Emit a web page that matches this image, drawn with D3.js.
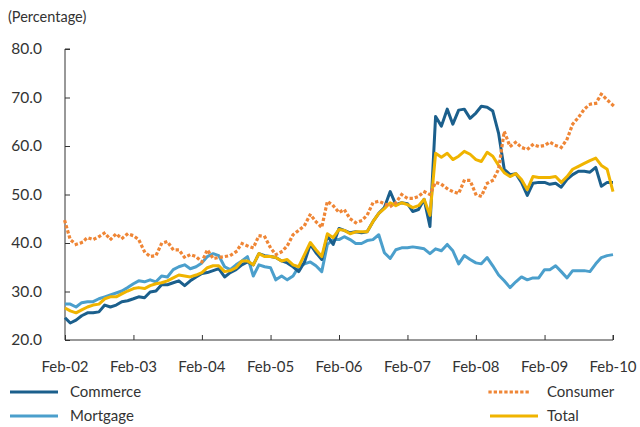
<!DOCTYPE html>
<html>
<head>
<meta charset="utf-8">
<script src="https://cdn.jsdelivr.net/npm/d3@7"></script>
<style>
  html, body { margin: 0; padding: 0; background: #fff; }
  svg { display: block; font-family: Lato, "Open Sans", sans-serif; }
</style>
</head>
<body>
<svg id="chart" width="640" height="427"></svg>
<script>
// Monthly shares (%), February 2002 through February 2010
const startMonth = new Date(2002, 1, 1);

const commerce = [
  24.6, 23.5, 24.1, 25.0, 25.6, 25.6, 25.8, 27.2, 26.8, 27.2, 27.9, 28.1,
  28.5, 28.9, 28.7, 29.9, 30.1, 31.4, 31.4, 31.8, 32.2, 31.2, 32.2, 33.0,
  33.7, 33.9, 34.3, 34.7, 33.0, 33.9, 34.5, 35.5, 36.1, 35.5, 37.8, 37.4,
  37.2, 37.0, 36.3, 35.9, 35.1, 34.1, 36.1, 39.7, 38.0, 36.6, 41.5, 39.7,
  43.0, 42.6, 42.1, 42.3, 42.1, 42.3, 44.4, 46.1, 47.3, 50.6, 47.9, 48.3,
  48.1, 46.5, 46.9, 49.0, 43.4, 66.1, 64.1, 67.6, 64.5, 67.4, 67.6, 65.7,
  66.8, 68.2, 68.0, 67.2, 62.6, 55.2, 54.1, 54.3, 52.5, 49.8, 52.3, 52.5,
  52.5, 52.1, 52.3, 51.5, 53.1, 54.1, 54.8, 54.8, 54.6, 55.6, 51.7, 52.5,
  52.5
];

const consumer = [
  44.4, 40.7, 39.7, 40.1, 41.1, 40.7, 41.3, 42.1, 40.7, 41.9, 40.9, 41.9,
  41.5, 40.7, 38.2, 37.2, 37.4, 39.9, 40.3, 38.6, 38.6, 37.0, 37.6, 37.2,
  36.1, 38.6, 36.8, 37.0, 37.2, 37.4, 38.2, 39.9, 39.4, 39.0, 41.5, 41.3,
  39.0, 37.6, 38.2, 39.4, 41.7, 42.6, 43.6, 45.9, 44.4, 43.2, 48.6, 47.7,
  46.3, 46.9, 45.0, 44.2, 44.6, 45.7, 48.3, 48.6, 48.1, 47.5, 48.3, 50.0,
  49.2, 49.2, 49.6, 50.6, 50.0, 52.5, 52.1, 51.2, 50.6, 50.2, 52.9, 52.9,
  50.0, 49.6, 52.3, 52.9, 55.2, 63.0, 59.9, 60.8, 59.7, 59.3, 60.3, 59.9,
  60.1, 60.8, 60.1, 59.7, 61.4, 64.5, 65.9, 67.6, 68.6, 68.8, 70.7, 69.5,
  68.4
];

const mortgage = [
  27.4, 27.4, 26.8, 27.7, 27.9, 27.9, 28.5, 28.9, 29.3, 29.7, 30.1, 30.8,
  31.6, 32.2, 32.0, 32.4, 32.0, 33.2, 33.0, 34.5, 35.1, 35.5, 34.7, 35.1,
  35.9, 37.2, 37.8, 37.4, 35.1, 34.5, 35.5, 36.3, 37.2, 33.2, 35.5, 35.1,
  34.9, 32.4, 33.2, 32.4, 33.2, 35.1, 35.7, 36.1, 35.3, 34.1, 39.7, 40.7,
  40.7, 41.3, 40.7, 39.9, 39.9, 40.5, 40.7, 41.7, 38.0, 36.8, 38.6, 39.0,
  39.0, 39.2, 39.0, 38.8, 37.8, 38.8, 38.4, 39.7, 38.4, 35.7, 37.4, 36.6,
  35.9, 35.7, 37.0, 35.3, 33.4, 32.2, 30.8, 32.0, 33.0, 32.4, 32.8, 32.8,
  34.5, 34.5, 35.3, 34.1, 32.8, 34.3, 34.3, 34.3, 34.1, 35.7, 37.0, 37.4,
  37.6
];

const total = [
  26.6, 26.0, 25.6, 26.2, 26.8, 27.2, 27.4, 28.5, 28.9, 28.9, 29.5, 30.1,
  30.6, 30.8, 30.6, 31.2, 31.6, 31.8, 32.2, 32.8, 33.4, 33.2, 33.0, 33.4,
  33.9, 34.9, 35.3, 35.3, 34.1, 34.3, 34.9, 36.3, 36.3, 35.5, 37.8, 37.2,
  37.2, 37.0, 36.3, 36.6, 35.5, 35.1, 37.6, 40.1, 38.6, 37.2, 41.9, 41.1,
  42.8, 42.6, 41.9, 42.3, 42.3, 42.3, 44.4, 46.1, 47.1, 48.3, 47.7, 48.3,
  47.9, 47.3, 47.7, 49.0, 45.7, 58.5, 57.7, 58.5, 57.2, 57.9, 58.9, 58.3,
  57.2, 56.8, 58.7, 57.9, 56.0, 54.5, 53.7, 54.3, 53.1, 51.0, 53.7, 53.5,
  53.5, 53.5, 53.7, 52.5, 53.7, 55.2, 55.8, 56.4, 57.0, 57.5, 56.0, 55.2,
  50.6
];

const yTicks = [20, 30, 40, 50, 60, 70, 80];
const xTickLabels = ["Feb-02", "Feb-03", "Feb-04", "Feb-05", "Feb-06", "Feb-07", "Feb-08", "Feb-09", "Feb-10"];
const unitLabel = "(Percentage)";

const seriesDefs = [
  { name: "Mortgage", values: mortgage, color: "#4b9fcc", dash: null },
  { name: "Commerce", values: commerce, color: "#1b5f8c", dash: null },
  { name: "Total",    values: total,    color: "#f0b400", dash: null },
  { name: "Consumer", values: consumer, color: "#ef8636", dash: "0.1,5.2" }
];

const svg = d3.select("#chart");
const axisColor = "#333";
const textColor = "#333";

const x = d3.scaleTime()
  .domain([startMonth, d3.timeMonth.offset(startMonth, 96)])
  .range([65, 613]);
const y = d3.scaleLinear().domain([20, 80]).range([340, 49]);

const monthAt = i => d3.timeMonth.offset(startMonth, i);

// Unit label
svg.append("text")
  .attr("x", 8).attr("y", 22)
  .attr("font-size", 14.5)
  .attr("fill", textColor)
  .text(unitLabel);

// Y axis with inward ticks
const yAxis = svg.append("g").attr("transform", "translate(65,0)")
  .call(d3.axisRight(y).tickValues(yTicks).tickSize(5).tickFormat(""));
yAxis.select(".domain").attr("stroke", axisColor).attr("d", `M5,${y(80)}H0V${y(20)}`);
yAxis.selectAll(".tick line").attr("stroke", axisColor);

svg.append("g").selectAll("text")
  .data(yTicks)
  .join("text")
  .attr("x", 42)
  .attr("y", d => y(d))
  .attr("dy", "0.35em")
  .attr("text-anchor", "end")
  .attr("font-size", 15.5)
  .attr("fill", textColor)
  .text(d => d3.format(".1f")(d));

// X axis with inward ticks at each February
const xTickDates = xTickLabels.map((_, i) => monthAt(i * 12));
const xAxis = svg.append("g").attr("transform", "translate(0,340)")
  .call(d3.axisTop(x).tickValues(xTickDates).tickSize(5).tickFormat(""));
xAxis.select(".domain").attr("stroke", axisColor).attr("d", `M${x.range()[0]},0H${x.range()[1]}V-5`);
xAxis.selectAll(".tick line").attr("stroke", axisColor);

svg.append("g").selectAll("text")
  .data(xTickLabels)
  .join("text")
  .attr("x", (d, i) => x(xTickDates[i]))
  .attr("y", 367)
  .attr("dy", "0.35em")
  .attr("text-anchor", "middle")
  .attr("font-size", 15)
  .attr("fill", textColor)
  .text(d => d);

// Series lines
const line = d3.line()
  .x((d, i) => x(monthAt(i)))
  .y(d => y(d));

svg.append("g").selectAll("path")
  .data(seriesDefs)
  .join("path")
  .attr("d", d => line(d.values))
  .attr("fill", "none")
  .attr("stroke", d => d.color)
  .attr("stroke-width", d => d.dash ? 3.2 : 3)
  .attr("stroke-linejoin", "round")
  .attr("stroke-linecap", d => d.dash ? "square" : "butt")
  .attr("stroke-dasharray", d => d.dash);

// Legend
const legendItems = [
  { s: seriesDefs[1], lx: 10, tx: 70, y: 392 },
  { s: seriesDefs[0], lx: 10, tx: 70, y: 416 },
  { s: seriesDefs[3], lx: 490, tx: 547, y: 392 },
  { s: seriesDefs[2], lx: 490, tx: 547, y: 416 }
];
const legend = svg.append("g").selectAll("g")
  .data(legendItems)
  .join("g");
legend.append("line")
  .attr("x1", d => d.lx).attr("x2", d => d.lx + (d.s.dash ? 42 : 48))
  .attr("y1", d => d.y).attr("y2", d => d.y)
  .attr("stroke", d => d.s.color)
  .attr("stroke-width", d => d.s.dash ? 3.2 : 3.2)
  .attr("stroke-linecap", d => d.s.dash ? "square" : "butt")
  .attr("stroke-dasharray", d => d.s.dash);
legend.append("text")
  .attr("x", d => d.tx).attr("y", d => d.y)
  .attr("dy", "0.35em")
  .attr("font-size", 15)
  .attr("fill", textColor)
  .text(d => d.s.name);
</script>
</body>
</html>
